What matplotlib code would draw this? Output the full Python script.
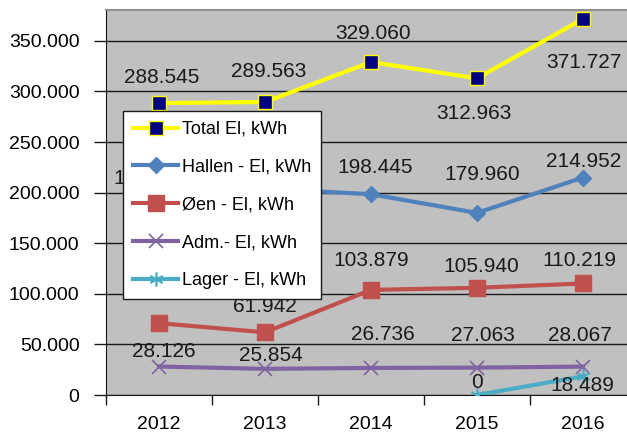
import numpy as np
import matplotlib
matplotlib.use('Agg')
import matplotlib.pyplot as plt
from matplotlib.ticker import FuncFormatter, FixedLocator

plt.rcParams['font.family'] = ['Liberation Sans', 'DejaVu Sans']

years = ['2012', '2013', '2014', '2015', '2016']
total = [288545, 289563, 329060, 312963, 371727]
hallen = [187000, 204000, 198445, 179960, 214952]
oen = [71000, 61942, 103879, 105940, 110219]
adm = [28126, 25854, 26736, 27063, 28067]
lager = [np.nan, np.nan, np.nan, 0, 18489]

names = ['Total El, kWh', 'Hallen - El, kWh', 'Øen - El, kWh',
         'Adm.- El, kWh', 'Lager - El, kWh']

# label offsets in pixels (dx, dy); None = hidden behind the legend
offsets = {
    'total': [(3, 26), (4, 31), (2, 29), (-3, -35), (1, -44)],
    'hallen': [(-8, 27), None, (4, 27), (5, 38), (1, 16)],
    'oen': [None, (0, 26), (0, 29), (4, 21), (-4, 23)],
    'adm': [(5, 15), (6, 13), (12, 33), (6, 32), (-3, 31)],
    'lager': [None, None, None, (0, 12), (-1, -9)],
}


def fmt(v):
    return '{:,.0f}'.format(v).replace(',', '.')


fig = plt.figure(figsize=(6.27, 4.34), dpi=100)
ax = fig.add_axes([106 / 627, 39 / 434, 530 / 627, 385 / 434])
ax.set_facecolor('#c0c0c0')

x = np.arange(len(years))
series = [
    ('total', total, dict(color='#ffff00', lw=3, marker='s', ms=9.5,
                          mfc='#000080', mec='#ffff00', mew=1)),
    ('hallen', hallen, dict(color='#4f81bd', lw=3, marker='D', ms=8,
                            mfc='#4f81bd', mec='#4f81bd')),
    ('oen', oen, dict(color='#c0504d', lw=3, marker='s', ms=11.5,
                      mfc='#c0504d', mec='#c0504d')),
    ('adm', adm, dict(color='#8064a2', lw=3, marker='x', ms=10, mew=1.2,
                      mec='#8064a2')),
    ('lager', lager, dict(color='#4bacc6', lw=3, marker=(6, 2, 0), ms=10,
                          mew=1.2, mec='#4bacc6')),
]

handles = []
for (key, vals, style), name in zip(series, names):
    h, = ax.plot(x, vals, label=name, zorder=3, **style)
    handles.append(h)
    for i, v in enumerate(vals):
        off = offsets[key][i]
        if off is None or np.isnan(v):
            continue
        ax.annotate(fmt(v), (x[i], v), xytext=off, textcoords='offset pixels',
                    ha='center', va='center', fontsize=15, color='#1a1a1a',
                    zorder=4)

ax.set_xlim(-0.5, 4.5)
ax.set_ylim(0, 380500)
ax.set_yticks(np.arange(0, 350001, 50000))
ax.yaxis.set_major_formatter(FuncFormatter(lambda v, p: fmt(v)))
ax.grid(axis='y', color='#1a1a1a', lw=1, zorder=1)
ax.set_axisbelow(True)

ax.set_xticks(x)
ax.set_xticklabels(years)
ax.xaxis.set_minor_locator(FixedLocator(np.arange(-0.5, 5, 1)))
ax.tick_params(axis='x', which='major', length=0, pad=15, labelsize=14)
ax.tick_params(axis='x', which='minor', length=7, width=1, color='#1a1a1a')
ax.tick_params(axis='y', length=9, width=1, pad=10, labelsize=14,
               color='#1a1a1a')

for s in ['left', 'bottom']:
    ax.spines[s].set_color('#1a1a1a')
ax.spines['top'].set_color('#909090')
ax.spines['top'].set_linewidth(1.5)
ax.spines['right'].set_visible(False)

leg = ax.legend(handles=handles, loc='upper left',
                bbox_to_anchor=(123 / 627, 1 - 111 / 434),
                bbox_transform=fig.transFigure, fontsize=13,
                frameon=True, fancybox=False, framealpha=1, borderpad=0.55,
                labelspacing=1.15, handlelength=2.5, handletextpad=0.2,
                borderaxespad=0)
leg.get_frame().set_edgecolor('#1a1a1a')
leg.get_frame().set_linewidth(1)
leg.set_zorder(10)

fig.savefig('out.png', dpi=100)
